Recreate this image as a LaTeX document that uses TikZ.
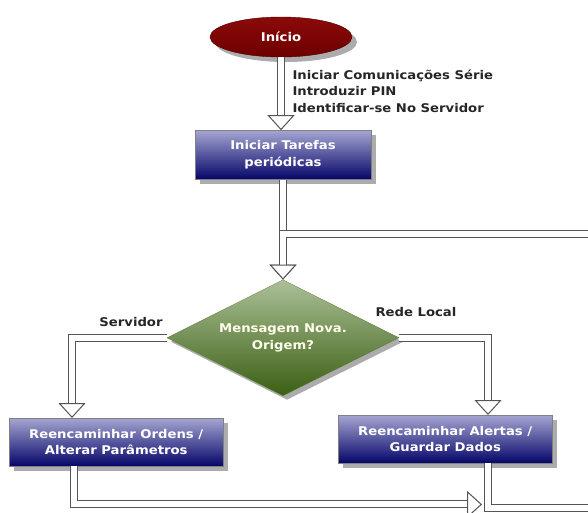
\documentclass[tikz,border=0pt]{standalone}
\usepackage{fontspec}
\setmainfont{DejaVu Sans}[FakeStretch=1.1]
\usepackage{tikz}
\usetikzlibrary{shapes,arrows.meta,positioning,calc,shadows}
\definecolor{redtop}{RGB}{140,10,10}
\definecolor{darkred}{RGB}{110,0,0}
\definecolor{lavtop}{RGB}{165,165,210}
\definecolor{navybot}{RGB}{5,5,105}
\definecolor{sagetop}{RGB}{172,192,152}
\definecolor{leafbot}{RGB}{58,95,18}
\definecolor{linegray}{RGB}{85,85,85}
\definecolor{shadowgray}{RGB}{172,172,172}

\newcommand{\flowfont}{\fontsize{12pt}{16.5pt}\selectfont\bfseries}
\tikzset{
  startnode/.style={ellipse, draw=darkred!70!black, minimum width=142pt, minimum height=40pt,
    top color=redtop, bottom color=darkred, text=white, font=\flowfont,
    drop shadow={shadow xshift=5pt, shadow yshift=-5pt, fill=shadowgray, opacity=1}},
  taskbox/.style={draw=gray, rectangle, minimum width=214pt, minimum height=48pt,
    top color=lavtop, bottom color=navybot, text=white, font=\flowfont, align=center,
    drop shadow={shadow xshift=5pt, shadow yshift=-5pt, fill=shadowgray, opacity=1}},
  decision/.style={diamond, aspect=2, draw=leafbot!80!white, minimum width=232pt, minimum height=116pt,
    inner sep=0pt, top color=sagetop, bottom color=leafbot, text=white!92!yellow, font=\flowfont, align=center,
    drop shadow={shadow xshift=4pt, shadow yshift=-4pt, fill=shadowgray, opacity=1}},
  flow/.style={draw=linegray, line width=1pt, double=white, double distance=6pt,
    -{Triangle[fill=white, width=27pt, length=15pt, line width=1pt]}},
  lbl/.style={font=\flowfont, text=black!85, align=left},
}

\begin{document}
\begin{tikzpicture}[x=1pt, y=-1pt]
    \useasboundingbox (0,0) rectangle (588,512);
    \clip (0,0) rectangle (588,512);

    % Flow nodes
    \node[startnode] (inicio) at (281,37) {Início};
    \node[taskbox, minimum width=176pt, minimum height=49pt, below=73pt of inicio, xshift=2pt] (tarefas) {Iniciar Tarefas\\periódicas};
    \node[decision, below=100pt of tarefas] (msg) {Mensagem Nova.\\Origem?};
    \node[taskbox, anchor=north west] (ordens) at (9,418) {Reencaminhar Ordens /\\Alterar Parâmetros};
    \node[taskbox, anchor=north west] (alertas) at (338,415) {Reencaminhar Alertas /\\Guardar Dados};

    % Free ends
    \coordinate (loopin) at (600,233.5);
    \coordinate (loopout) at (600,508);
    \coordinate (merge) at ($(alertas.south west)+(144,41)$);

    % Connectors
    \draw[flow] (inicio.south) -- (inicio.south |- tarefas.north);
    \draw[flow] (tarefas.south) -- (msg.north);
    \draw[flow] (loopin) -| (msg.north);
    \draw[flow] (msg.west) -| ($(ordens.north west)+(63,0)$);
    \draw[flow] (msg.east) -| ($(alertas.north west)+(150,0)$);
    \draw[flow, -] ($(alertas.south west)+(150,0)$) |- (loopout);
    \draw[flow] ($(ordens.south west)+(64.5,0)$) |- (merge);

    % Labels
    \node[lbl, anchor=west] (setup) at (289,91) {Iniciar Comunicações Série\\Introduzir PIN\\Identificar-se No Servidor};
    \node[lbl] (srv) at (131,322) {Servidor};
    \node[lbl] (rede) at (416,312) {Rede Local};
\end{tikzpicture}
\end{document}
